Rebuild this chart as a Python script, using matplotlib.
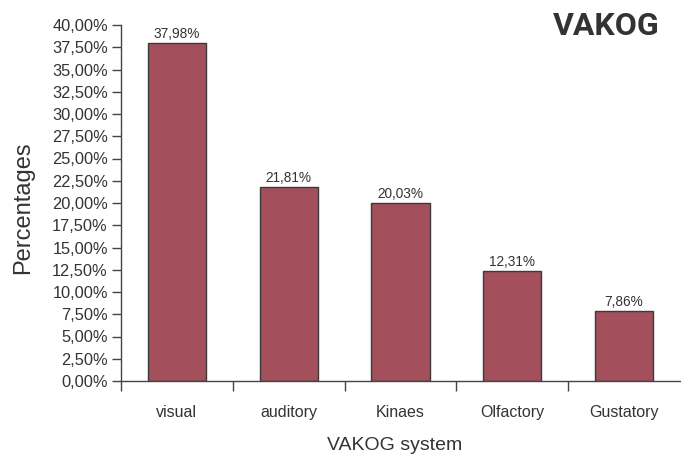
import matplotlib
matplotlib.use("Agg")
import matplotlib.pyplot as plt
from matplotlib.ticker import FuncFormatter, FixedLocator

categories = ["visual", "auditory", "Kinaes", "Olfactory", "Gustatory"]
values = [37.98, 21.81, 20.03, 12.31, 7.86]
y_ticks = [0, 2.5, 5, 7.5, 10, 12.5, 15, 17.5, 20, 22.5, 25, 27.5, 30, 32.5, 35, 37.5, 40]

W, H = 681, 457
TXT = "#333333"
plt.rcParams["font.family"] = ["Liberation Sans", "DejaVu Sans"]

fig = plt.figure(figsize=(W / 100, H / 100), dpi=100)
ax = fig.add_axes([121 / W, (H - 381) / H, (680 - 121) / W, 356 / H])

x = list(range(len(categories)))
ax.bar(x, values, width=0.52, color="#A34F5C", edgecolor="#3a3a3a", linewidth=1.0, zorder=2)

for xi, v in zip(x, values):
    ax.annotate(f"{v:.2f}%".replace(".", ","), (xi, v), xytext=(0, 1.5),
                textcoords="offset points", ha="center", va="bottom",
                fontsize=9.8, color=TXT)

ax.set_xlim(-0.5, len(categories) - 0.5)
ax.set_ylim(0, 40)
ax.yaxis.set_major_locator(FixedLocator(y_ticks))
ax.yaxis.set_major_formatter(FuncFormatter(lambda v, p: f"{v:.2f}%".replace(".", ",")))

# boundaries between categories carry the tick marks, labels sit at centres
ax.xaxis.set_major_locator(FixedLocator([i - 0.5 for i in x]))
ax.xaxis.set_major_formatter(FuncFormatter(lambda v, p: ""))
ax.xaxis.set_minor_locator(FixedLocator(x))
ax.set_xticklabels(categories, minor=True)

ax.tick_params(axis="y", direction="out", length=6.5, width=1.0, color="#444444",
               labelsize=11.8, labelcolor=TXT, pad=3)
ax.tick_params(axis="x", which="major", direction="out", length=7.5, width=1.0, color="#444444")
ax.tick_params(axis="x", which="minor", length=0, labelsize=11.5, labelcolor=TXT, pad=17.5)

for side in ("top", "right"):
    ax.spines[side].set_visible(False)
for side in ("left", "bottom"):
    ax.spines[side].set_color("#444444")
    ax.spines[side].set_linewidth(1.0)

fig.text(23 / W, 1 - 208 / H, "Percentages", rotation=90, ha="center", va="center",
         fontsize=17, color=TXT)
fig.text(395 / W, 1 - 445 / H, "VAKOG system", ha="center", va="center",
         fontsize=14, color=TXT)
fig.text(660 / W, 1 - 35 / H, "VAKOG", ha="right", va="baseline", fontsize=23,
         fontweight="bold", color=TXT, family=["Roboto", "DejaVu Sans"])

fig.savefig("out.png", dpi=100)
